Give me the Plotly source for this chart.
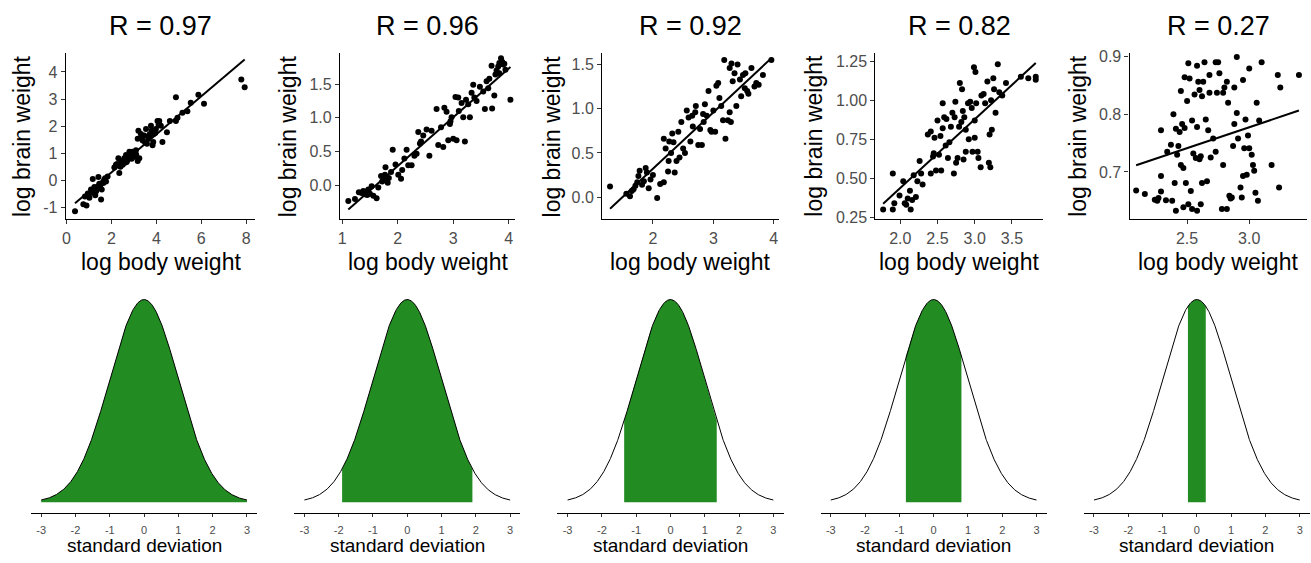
import numpy as np
import plotly.graph_objects as go

W, H = 1311, 563

titles = ["R = 0.97", "R = 0.96", "R = 0.92", "R = 0.82", "R = 0.27"]

p1_x = [0.38, 0.75, 0.89, 0.95, 1.02, 1.09, 1.12, 1.17, 1.24, 1.32, 1.39, 1.42, 1.46, 1.54, 1.57,
        1.64, 1.72, 1.76, 1.83, 0.82, 1.28, 1.50, 1.68, 2.13, 2.20, 2.35, 2.31, 2.43, 2.50, 2.57,
        2.65, 2.72, 2.80, 2.87, 2.94, 3.02, 3.09, 3.17, 3.24, 2.40, 2.60, 2.75, 2.90, 3.00, 3.10,
        2.55, 2.68, 2.25, 3.20, 3.17, 3.31, 3.39, 3.46, 3.54, 3.58, 3.64, 3.71, 3.76, 3.83, 3.88,
        3.98, 4.05, 4.13, 4.20, 3.86, 4.27, 4.47, 4.60, 4.87, 4.87, 4.94, 5.16, 5.38, 5.53, 5.87,
        6.12, 7.78, 7.93, 3.50, 3.68, 3.95, 4.10, 3.35, 3.80]
p1_y = [-1.14, -0.88, -0.93, -0.49, -0.64, -0.34, -0.46, 0.05, -0.25, -0.40, -0.28, 0.12, -0.13, -0.71, -0.34,
        -0.10, 0.08, -0.04, 0.14, -0.60, -0.55, -0.20, 0.02, 0.47, 0.57, 0.27, 0.81, 0.69, 0.57, 0.81,
        0.93, 0.75, 1.05, 0.93, 1.05, 0.87, 1.11, 0.71, 0.81, 0.50, 0.65, 0.90, 0.80, 1.00, 0.95,
        0.72, 0.68, 0.60, 1.83, 1.53, 1.71, 1.47, 1.65, 1.89, 1.35, 1.53, 1.71, 2.01, 1.29, 1.71,
        1.89, 2.19, 2.19, 2.01, 1.41, 1.41, 1.77, 2.19, 3.07, 2.19, 2.31, 2.49, 2.55, 2.86, 3.16,
        2.83, 3.72, 3.43, 1.40, 1.60, 1.75, 2.05, 1.60, 1.85]

p2_x = [1.11, 1.23, 1.35, 1.38, 1.41, 1.44, 1.47, 1.50, 1.53, 1.56, 1.62, 1.65, 1.70, 1.72, 1.77,
        1.78, 1.82, 1.84, 1.88, 1.91, 1.96, 2.01, 2.06, 2.08, 2.12, 2.16, 2.19, 2.25, 2.30, 2.34,
        2.37, 2.42, 2.46, 2.52, 2.57, 2.61, 2.70, 2.73, 2.78, 2.82, 2.84, 2.88, 2.91, 2.94, 2.97,
        3.00, 3.04, 3.06, 3.09, 3.15, 3.18, 3.21, 3.23, 3.27, 3.30, 3.33, 3.36, 3.42, 3.48, 3.54,
        3.57, 3.60, 3.63, 3.70, 3.74, 3.76, 3.81, 3.83, 3.86, 3.88, 3.92, 3.94, 4.03, 3.83, 3.69,
        1.30, 1.45, 1.75, 1.80, 2.40, 2.95, 3.10, 3.38, 3.65, 3.90, 3.78]
p2_y = [-0.23, -0.20, -0.11, -0.08, -0.13, -0.09, -0.06, -0.12, -0.01, -0.15, -0.19, -0.03, 0.14, 0.06, 0.16,
        0.27, 0.04, 0.11, 0.20, 0.53, 0.31, 0.16, 0.10, 0.23, 0.40, 0.53, 0.30, 0.30, 0.44, 0.47,
        0.79, 0.65, 0.74, 0.83, 0.44, 0.81, 1.13, 0.60, 0.86, 0.57, 1.15, 1.09, 0.67, 0.91, 1.01,
        0.69, 1.31, 0.67, 1.30, 1.22, 1.01, 0.65, 1.27, 1.20, 1.01, 1.37, 1.49, 1.25, 1.46, 1.39,
        1.13, 1.54, 1.44, 1.14, 1.33, 1.64, 1.76, 1.66, 1.88, 1.83, 1.80, 1.71, 1.27, 1.81, 1.77,
        -0.10, -0.14, 0.12, 0.09, 0.62, 0.95, 1.10, 1.30, 1.58, 1.79, 1.70]

p3_x = [1.29, 1.56, 1.62, 1.65, 1.68, 1.71, 1.74, 1.76, 1.78, 1.82, 1.85, 1.88, 1.93, 1.96, 2.07,
        2.12, 2.18, 2.18, 2.21, 2.25, 2.26, 2.27, 2.30, 2.32, 2.36, 2.39, 2.42, 2.47, 2.50, 2.53,
        2.56, 2.59, 2.62, 2.65, 2.70, 2.71, 2.75, 2.78, 2.81, 2.83, 2.86, 2.89, 2.92, 2.95, 2.97,
        3.00, 3.03, 3.05, 3.08, 3.13, 3.16, 3.18, 3.20, 3.24, 3.27, 3.29, 3.30, 3.32, 3.35, 3.38,
        3.40, 3.44, 3.46, 3.49, 3.52, 3.53, 3.56, 3.63, 3.68, 3.71, 3.75, 3.82, 3.96, 3.27, 2.84,
        1.90, 2.00, 2.34, 2.44, 2.66, 3.10, 3.58]
p3_y = [0.12, 0.04, 0.01, 0.07, 0.09, 0.13, 0.17, 0.24, 0.30, 0.14, 0.18, 0.33, 0.10, 0.20, -0.01,
        0.15, 0.17, 0.66, 0.55, 0.29, 0.41, 0.63, 0.50, 0.72, 0.28, 0.41, 0.74, 0.85, 0.55, 0.50,
        0.98, 0.90, 0.63, 0.92, 0.96, 1.03, 0.59, 0.77, 0.59, 0.94, 1.05, 0.92, 1.20, 0.76, 0.74,
        0.98, 0.74, 1.26, 1.29, 1.03, 0.87, 1.55, 0.66, 0.87, 1.46, 0.85, 1.51, 1.31, 1.40, 1.03,
        1.50, 1.33, 1.14, 1.38, 1.23, 1.40, 1.20, 1.46, 1.25, 1.29, 1.27, 1.38, 1.55, 0.96, 0.85,
        0.28, 0.25, 0.62, 0.45, 0.80, 1.12, 1.17]

p4_x = [1.77, 1.90, 1.90, 1.92, 1.99, 2.04, 2.06, 2.08, 2.10, 2.13, 2.14, 2.16, 2.18, 2.21, 2.23,
        2.26, 2.28, 2.30, 2.37, 2.41, 2.41, 2.44, 2.46, 2.48, 2.50, 2.52, 2.54, 2.55, 2.57, 2.57,
        2.59, 2.61, 2.64, 2.66, 2.68, 2.70, 2.72, 2.73, 2.74, 2.75, 2.77, 2.79, 2.80, 2.82, 2.83,
        2.85, 2.86, 2.88, 2.88, 2.91, 2.92, 2.94, 2.97, 2.99, 3.00, 3.01, 3.02, 3.04, 3.05, 3.08,
        3.09, 3.12, 3.14, 3.17, 3.20, 3.21, 3.22, 3.23, 3.25, 3.26, 3.28, 3.31, 3.33, 3.37, 3.42,
        3.62, 3.72, 3.82, 3.82, 3.00, 2.62, 2.45, 2.84, 2.96, 3.19]
p4_y = [0.30, 0.53, 0.30, 0.34, 0.39, 0.48, 0.34, 0.33, 0.37, 0.42, 0.30, 0.36, 0.52, 0.38, 0.48,
        0.61, 0.53, 0.46, 0.78, 0.80, 0.53, 0.64, 0.76, 0.55, 0.87, 0.65, 0.77, 0.55, 0.98, 0.82,
        0.89, 0.71, 0.63, 0.73, 0.83, 0.92, 0.53, 0.89, 0.99, 0.60, 0.63, 0.83, 1.11, 0.86, 1.07,
        0.62, 0.89, 0.81, 0.67, 0.98, 0.75, 0.99, 0.67, 1.21, 0.76, 1.18, 0.98, 0.67, 0.63, 0.57,
        1.03, 1.04, 0.98, 1.12, 0.78, 0.57, 1.00, 0.81, 1.14, 1.07, 0.92, 1.23, 1.05, 1.03, 1.11,
        1.15, 1.14, 1.15, 1.13, 0.87, 0.88, 0.66, 0.93, 0.95, 0.60]

p5_x = [2.09, 2.16, 2.24, 2.26, 2.29, 2.29, 2.29, 2.33, 2.34, 2.37, 2.38, 2.39, 2.40, 2.41, 2.41,
        2.42, 2.44, 2.45, 2.45, 2.46, 2.47, 2.47, 2.48, 2.48, 2.49, 2.50, 2.51, 2.51, 2.52, 2.53,
        2.54, 2.54, 2.55, 2.56, 2.57, 2.58, 2.58, 2.58, 2.59, 2.60, 2.61, 2.61, 2.62, 2.62, 2.63,
        2.64, 2.65, 2.66, 2.67, 2.68, 2.68, 2.69, 2.71, 2.73, 2.73, 2.74, 2.75, 2.76, 2.78, 2.79,
        2.79, 2.80, 2.82, 2.82, 2.83, 2.84, 2.85, 2.86, 2.87, 2.88, 2.88, 2.90, 2.90, 2.91, 2.93,
        2.94, 2.95, 2.95, 2.96, 2.97, 2.98, 2.99, 3.00, 3.00, 3.02, 3.03, 3.04, 3.05, 3.06, 3.07,
        3.08, 3.10, 3.18, 3.23, 3.24, 3.25, 3.40, 2.27, 2.43, 2.60]
p5_y = [0.668, 0.662, 0.652, 0.650, 0.772, 0.693, 0.666, 0.651, 0.735, 0.747, 0.650, 0.800, 0.681, 0.775, 0.633,
        0.730, 0.769, 0.712, 0.840, 0.783, 0.707, 0.639, 0.776, 0.864, 0.681, 0.823, 0.644, 0.888, 0.862, 0.667,
        0.636, 0.789, 0.732, 0.834, 0.724, 0.633, 0.884, 0.778, 0.856, 0.842, 0.644, 0.727, 0.681, 0.831, 0.856,
        0.890, 0.791, 0.684, 0.772, 0.868, 0.837, 0.725, 0.758, 0.735, 0.890, 0.837, 0.890, 0.871, 0.636, 0.712,
        0.837, 0.846, 0.636, 0.856, 0.820, 0.659, 0.654, 0.656, 0.745, 0.846, 0.783, 0.899, 0.802, 0.758, 0.673,
        0.656, 0.693, 0.859, 0.741, 0.791, 0.695, 0.763, 0.879, 0.741, 0.730, 0.712, 0.702, 0.664, 0.820, 0.650,
        0.789, 0.890, 0.712, 0.868, 0.673, 0.846, 0.868, 0.655, 0.745, 0.722]

xs_all = [p1_x, p2_x, p3_x, p4_x, p5_x]
ys_all = [p1_y, p2_y, p3_y, p4_y, p5_y]

x_tickvals = [[0, 2, 4, 6, 8], [1, 2, 3, 4], [2, 3, 4], [2.0, 2.5, 3.0, 3.5], [2.5, 3.0]]
x_ticktext = [["0", "2", "4", "6", "8"], ["1", "2", "3", "4"], ["2", "3", "4"],
              ["2.0", "2.5", "3.0", "3.5"], ["2.5", "3.0"]]
y_tickvals = [[-1, 0, 1, 2, 3, 4], [0, 0.5, 1.0, 1.5], [0, 0.5, 1.0, 1.5],
              [0.25, 0.5, 0.75, 1.0, 1.25], [0.7, 0.8, 0.9]]
y_ticktext = [["-1", "0", "1", "2", "3", "4"], ["0.0", "0.5", "1.0", "1.5"], ["0.0", "0.5", "1.0", "1.5"],
              ["0.25", "0.50", "0.75", "1.00", "1.25"], ["0.7", "0.8", "0.9"]]

shade_half_width = [3.0, 1.9, 1.35, 0.81, 0.26]
sd_ticks = [-3, -2, -1, 0, 1, 2, 3]

x_axis_title = "log body weight"
y_axis_title = "log brain weight"
sd_title = "standard deviation"

# ---- layout geometry (pixels) ----
top_dom = [(62, 252), (337, 513), (600, 777), (874, 1042), (1129, 1307)]
top_xr = [(-0.03, 8.4), (0.96, 4.12), (1.16, 4.08), (1.665, 3.915), (2.037, 3.465)]
top_yr = [(-1.44, 4.70), (-0.50, 1.96), (-0.25, 1.63), (0.237, 1.302), (0.618, 0.906)]
ylab_off = [44, 52, 50, 61, 52]
bot_dom = [(27, 254), (291, 518), (555, 782), (819, 1046), (1083, 1310)]
TOP_Y = (49, 219)
BOT_Y = (290, 519)

def px(a):
    return a / W

def py(b):
    return 1 - b / H

GREEN = "#228B22"
TICKGREY = "#4D4D4D"
FONT = "Liberation Sans, Arial, sans-serif"

fig = go.Figure()
layout = dict(width=W, height=H, margin=dict(l=0, r=0, t=0, b=0),
              paper_bgcolor="white", plot_bgcolor="white", showlegend=False,
              font=dict(family=FONT))
annotations = []

for i in range(5):
    k = i + 1
    xa = "x" if k == 1 else f"x{k}"
    ya = "y" if k == 1 else f"y{k}"
    x = np.array(xs_all[i])
    y = np.array(ys_all[i])
    fig.add_trace(go.Scatter(x=x, y=y, mode="markers", xaxis=xa, yaxis=ya,
                             marker=dict(size=6, color="black"), hoverinfo="skip"))
    b1, b0 = np.polyfit(x, y, 1)
    lx = np.array([x.min(), x.max()])
    fig.add_trace(go.Scatter(x=lx, y=b0 + b1 * lx, mode="lines", xaxis=xa, yaxis=ya,
                             line=dict(color="black", width=2), hoverinfo="skip"))
    d = top_dom[i]
    layout[f"xaxis{'' if k == 1 else k}"] = dict(
        domain=[px(d[0]), px(d[1])], range=list(top_xr[i]), anchor=ya,
        showline=True, linecolor="black", linewidth=1.2, ticks="outside", ticklen=4,
        tickcolor="#333333", tickvals=x_tickvals[i], ticktext=x_ticktext[i],
        tickfont=dict(size=16, color=TICKGREY, family=FONT), showgrid=False, zeroline=False,
        ticklabeloverflow="allow", fixedrange=True)
    layout[f"yaxis{'' if k == 1 else k}"] = dict(
        domain=[py(TOP_Y[1]), py(TOP_Y[0])], range=list(top_yr[i]), anchor=xa,
        showline=True, linecolor="black", linewidth=1.2, ticks="outside", ticklen=4,
        tickcolor="#333333", tickvals=y_tickvals[i], ticktext=y_ticktext[i],
        tickfont=dict(size=16, color=TICKGREY, family=FONT), showgrid=False, zeroline=False,
        ticklabeloverflow="allow", fixedrange=True)
    cx = (d[0] + d[1]) / 2
    annotations.append(dict(text=titles[i], x=px(cx), y=py(21), xref="paper", yref="paper",
                            showarrow=False, xanchor="center", yanchor="middle",
                            font=dict(size=27, color="black", family=FONT)))
    annotations.append(dict(text=x_axis_title, x=px(cx), y=py(263), xref="paper", yref="paper",
                            showarrow=False, xanchor="center", yanchor="middle",
                            font=dict(size=23, color="black", family=FONT)))
    annotations.append(dict(text=y_axis_title, x=px(d[0] - ylab_off[i]), y=py((TOP_Y[0] + TOP_Y[1]) / 2),
                            xref="paper", yref="paper", textangle=-90,
                            showarrow=False, xanchor="center", yanchor="middle",
                            font=dict(size=23, color="black", family=FONT)))

# bottom row: normal curves
zs = np.linspace(-3, 3, 601)
pdf = np.exp(-zs ** 2 / 2) / np.sqrt(2 * np.pi)
for i in range(5):
    k = i + 6
    xa, ya = f"x{k}", f"y{k}"
    w = shade_half_width[i]
    m = (zs >= -w - 1e-9) & (zs <= w + 1e-9)
    fig.add_trace(go.Scatter(x=zs[m], y=pdf[m], mode="lines", fill="tozeroy", fillcolor=GREEN,
                             line=dict(width=0, color=GREEN), xaxis=xa, yaxis=ya, hoverinfo="skip"))
    fig.add_trace(go.Scatter(x=zs, y=pdf, mode="lines", line=dict(color="black", width=1),
                             xaxis=xa, yaxis=ya, hoverinfo="skip"))
    d = bot_dom[i]
    layout[f"xaxis{k}"] = dict(
        domain=[px(d[0]), px(d[1])], range=[-3.3, 3.3], anchor=ya,
        showline=True, linecolor="black", linewidth=1.2, ticks="outside", ticklen=3,
        tickcolor="#333333", tickvals=sd_ticks, ticktext=[str(t) for t in sd_ticks],
        tickfont=dict(size=11, color=TICKGREY, family=FONT), showgrid=False, zeroline=False,
        ticklabeloverflow="allow", ticklabelstandoff=4, fixedrange=True)
    layout[f"yaxis{k}"] = dict(
        domain=[py(BOT_Y[1]), py(BOT_Y[0])], range=[-0.021, 0.42], anchor=xa,
        visible=False, showgrid=False, zeroline=False, fixedrange=True)
    annotations.append(dict(text=sd_title, x=px((d[0] + d[1]) / 2), y=py(552), xref="paper", yref="paper",
                            showarrow=False, xanchor="center", yanchor="middle",
                            font=dict(size=19, color="black", family=FONT)))

layout["annotations"] = annotations
fig.update_layout(**layout)
fig.write_html("out.html", config={"displayModeBar": False},
               post_script="document.body.style.margin='0px';document.body.style.overflow='hidden';")
